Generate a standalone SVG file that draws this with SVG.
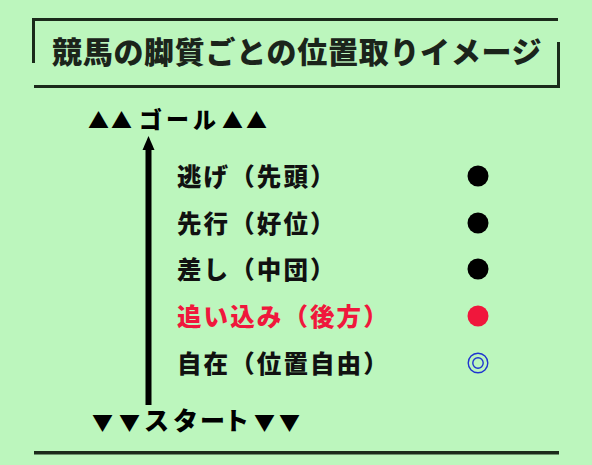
<svg xmlns="http://www.w3.org/2000/svg" width="592" height="465" viewBox="0 0 592 465">
<style>
text{font-family:"Noto Sans CJK JP","Noto Sans",sans-serif;font-weight:900}
.frame{fill:#1b2a1b}
.lbl{font-size:24.5px;fill:#111;letter-spacing:2.1px}
.red{fill:#f0173c}
.dot{fill:#000}
.tri{font-size:21px}
</style>
<rect width="592" height="465" fill="#bcf6bd"/>
<g id="title">
<rect class="frame" x="32" y="18" width="526" height="3"/>
<rect class="frame" x="32" y="18" width="3" height="45"/>
<rect class="frame" x="34" y="85" width="526" height="3"/>
<rect class="frame" x="557" y="42" width="3" height="46"/>
<text x="52" y="63" font-size="30" fill="#1b241b" letter-spacing="0.7">競馬の脚質ごとの位置取りイメージ</text>
</g>
<g id="goal"><text y="127.5" font-size="23" fill="#000"><tspan class="tri" x="88">▲</tspan><tspan class="tri" x="111">▲</tspan><tspan x="139">ゴ</tspan><tspan x="166">ー</tspan><tspan x="193">ル</tspan><tspan class="tri" x="222">▲</tspan><tspan class="tri" x="246">▲</tspan></text></g>
<g id="start"><text y="429.5" font-size="25" fill="#000"><tspan class="tri" x="92">▼</tspan><tspan class="tri" x="119">▼</tspan><tspan x="144">ス</tspan><tspan x="173">タ</tspan><tspan x="200">ー</tspan><tspan x="224">ト</tspan><tspan class="tri" x="254">▼</tspan><tspan class="tri" x="279">▼</tspan></text></g>
<g id="connectors">
<line x1="148.5" y1="405" x2="148.5" y2="148" stroke="#000" stroke-width="6"/>
<polygon points="148.5,136 142.5,150 154.5,150" fill="#000"/>
</g>
<g id="nige"><text class="lbl" x="177" y="186">逃げ（先頭）</text><circle class="dot" cx="478" cy="176" r="10.5"/></g>
<g id="senko"><text class="lbl" x="177" y="233">先行（好位）</text><circle class="dot" cx="478" cy="223" r="10.5"/></g>
<g id="sashi"><text class="lbl" x="177" y="279">差し（中団）</text><circle class="dot" cx="478" cy="269" r="10.5"/></g>
<g id="oikomi"><text class="lbl red" x="177" y="326">追い込み（後方）</text><circle class="red" cx="478" cy="316" r="10.5"/></g>
<g id="jizai"><text class="lbl" x="177" y="373">自在（位置自由）</text>
<circle cx="478" cy="363" r="9.8" fill="none" stroke="#1f35d0" stroke-width="1.4"/>
<circle cx="478" cy="363" r="5.2" fill="none" stroke="#1f35d0" stroke-width="1.4"/></g>
<rect class="frame" x="34" y="451" width="525" height="3.5"/>
</svg>
